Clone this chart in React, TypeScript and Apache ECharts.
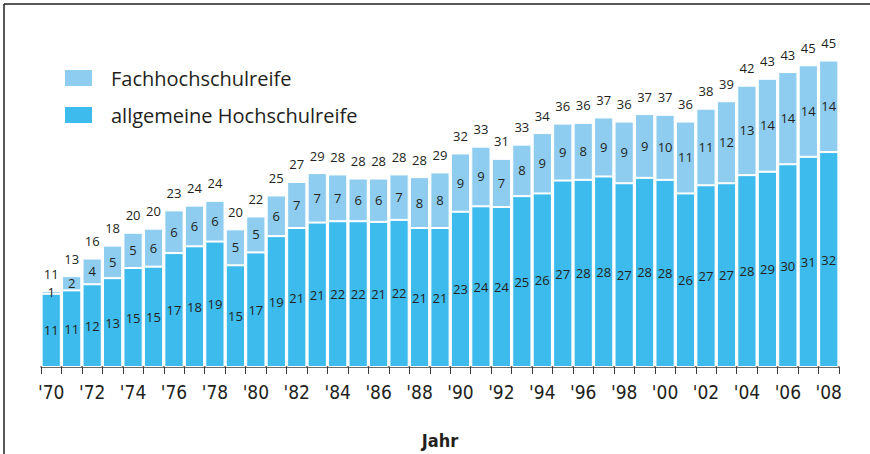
import React, { useEffect, useRef } from 'react';
import * as echarts from 'echarts';

const yearLabels = ["'70","'71","'72","'73","'74","'75","'76","'77","'78","'79","'80","'81","'82","'83","'84","'85","'86","'87","'88","'89","'90","'91","'92","'93","'94","'95","'96","'97","'98","'99","'00","'01","'02","'03","'04","'05","'06","'07","'08"];

// bar heights
const allgemeine = [10.8,11.3,12.2,13.1,14.6,14.8,16.8,17.8,18.5,15.0,16.9,19.3,20.5,21.3,21.5,21.5,21.4,21.7,20.5,20.5,22.9,23.7,23.6,25.2,25.6,27.5,27.6,28.1,27.1,27.9,27.6,25.6,26.8,27.1,28.3,28.8,29.9,31.0,31.7];
const fach = [0.4,2.1,3.8,4.8,5.2,5.6,6.3,6.0,6.0,5.3,5.3,6.0,6.8,7.3,6.9,6.3,6.4,6.7,7.5,8.2,8.6,8.8,7.1,7.6,8.9,8.4,8.4,8.7,9.1,9.4,9.6,10.6,11.3,12.1,13.2,13.7,13.6,13.5,13.5];

// printed value labels
const allgemeineLabels = [11,11,12,13,15,15,17,18,19,15,17,19,21,21,22,22,21,22,21,21,23,24,24,25,26,27,28,28,27,28,28,26,27,27,28,29,30,31,32];
const fachLabels = [1,2,4,5,5,6,6,6,6,5,5,6,7,7,7,6,6,7,8,8,9,9,7,8,9,9,8,9,9,9,10,11,11,12,13,14,14,14,14];
const totalLabels = [11,13,16,18,20,20,23,24,24,20,22,25,27,29,28,28,28,28,28,29,32,33,31,33,34,36,36,37,36,37,37,36,38,39,42,43,43,45,45];

const seriesNames = ['Fachhochschulreife', 'allgemeine Hochschulreife'];

const LIGHT = '#8ecdf0';
const DARK = '#3dbbec';
const TEXT = '#231f20';
const LABEL_FONT = "'Open Sans', 'Noto Sans', sans-serif";
const AXIS_FONT = "'Liberation Sans Narrow', 'DejaVu Sans Condensed', 'Open Sans', sans-serif";

export default function App() {
  const ref = useRef<HTMLDivElement>(null);
  useEffect(() => {
    document.body.style.margin = '0';
    const chart = echarts.init(ref.current!, null, { renderer: 'svg' });
    const topCaps = totalLabels.map(() => 0);
    chart.setOption({
      animation: false,
      backgroundColor: '#ffffff',
      grid: { left: 41, right: 31, top: 28, bottom: 86 },
      legend: {
        orient: 'vertical',
        left: 63,
        top: 68,
        padding: 0,
        itemWidth: 29,
        itemHeight: 18,
        itemGap: 17,
        icon: 'rect',
        data: seriesNames,
        textStyle: { fontFamily: LABEL_FONT, fontSize: 20, lineHeight: 18, color: TEXT, padding: [0, 0, 0, 13] },
      },
      xAxis: {
        type: 'category',
        data: yearLabels,
        boundaryGap: true,
        axisLine: { lineStyle: { color: '#3a3a3a', width: 1.5 } },
        axisTick: { show: true, interval: 0, length: 7, lineStyle: { color: '#3a3a3a', width: 1 } },
        axisLabel: { interval: 1, margin: 15, fontFamily: AXIS_FONT, fontSize: 19, color: TEXT },
        name: 'Jahr',
        nameLocation: 'middle',
        nameGap: 64,
        nameTextStyle: { fontFamily: AXIS_FONT, fontSize: 18, fontWeight: 'bold', color: TEXT },
      },
      yAxis: { type: 'value', min: 0, max: 50, show: false, splitLine: { show: false } },
      series: [
        {
          name: seriesNames[1],
          type: 'bar',
          stack: 'total',
          barCategoryGap: '6%',
          data: allgemeine,
          itemStyle: { color: DARK, borderColor: '#ffffff', borderWidth: 1 },
          label: {
            show: true, position: 'inside', fontFamily: LABEL_FONT, fontSize: 13, color: TEXT,
            formatter: (p: any) => String(allgemeineLabels[p.dataIndex]),
          },
        },
        {
          name: seriesNames[0],
          type: 'bar',
          stack: 'total',
          barCategoryGap: '6%',
          data: fach,
          itemStyle: { color: LIGHT, borderColor: '#ffffff', borderWidth: 1 },
          label: {
            show: true, position: 'inside', fontFamily: LABEL_FONT, fontSize: 13, color: TEXT,
            formatter: (p: any) => String(fachLabels[p.dataIndex]),
          },
        },
        {
          name: 'Summe',
          type: 'bar',
          stack: 'total',
          barCategoryGap: '6%',
          data: topCaps,
          silent: true,
          itemStyle: { color: 'rgba(0,0,0,0)', borderWidth: 0 },
          label: {
            show: true, position: 'top', distance: 11, fontFamily: LABEL_FONT, fontSize: 13, color: TEXT,
            formatter: (p: any) => String(totalLabels[p.dataIndex]),
          },
        },
      ],
      graphic: [
        { type: 'line', shape: { x1: 4, y1: 4, x2: 870, y2: 4 }, style: { stroke: '#231f20', lineWidth: 1.5 } },
        { type: 'line', shape: { x1: 4, y1: 4, x2: 4, y2: 454 }, style: { stroke: '#231f20', lineWidth: 1.5 } },
      ],
    });
    return () => chart.dispose();
  }, []);
  return <div ref={ref} style={{ width: 870, height: 454 }} />;
}
